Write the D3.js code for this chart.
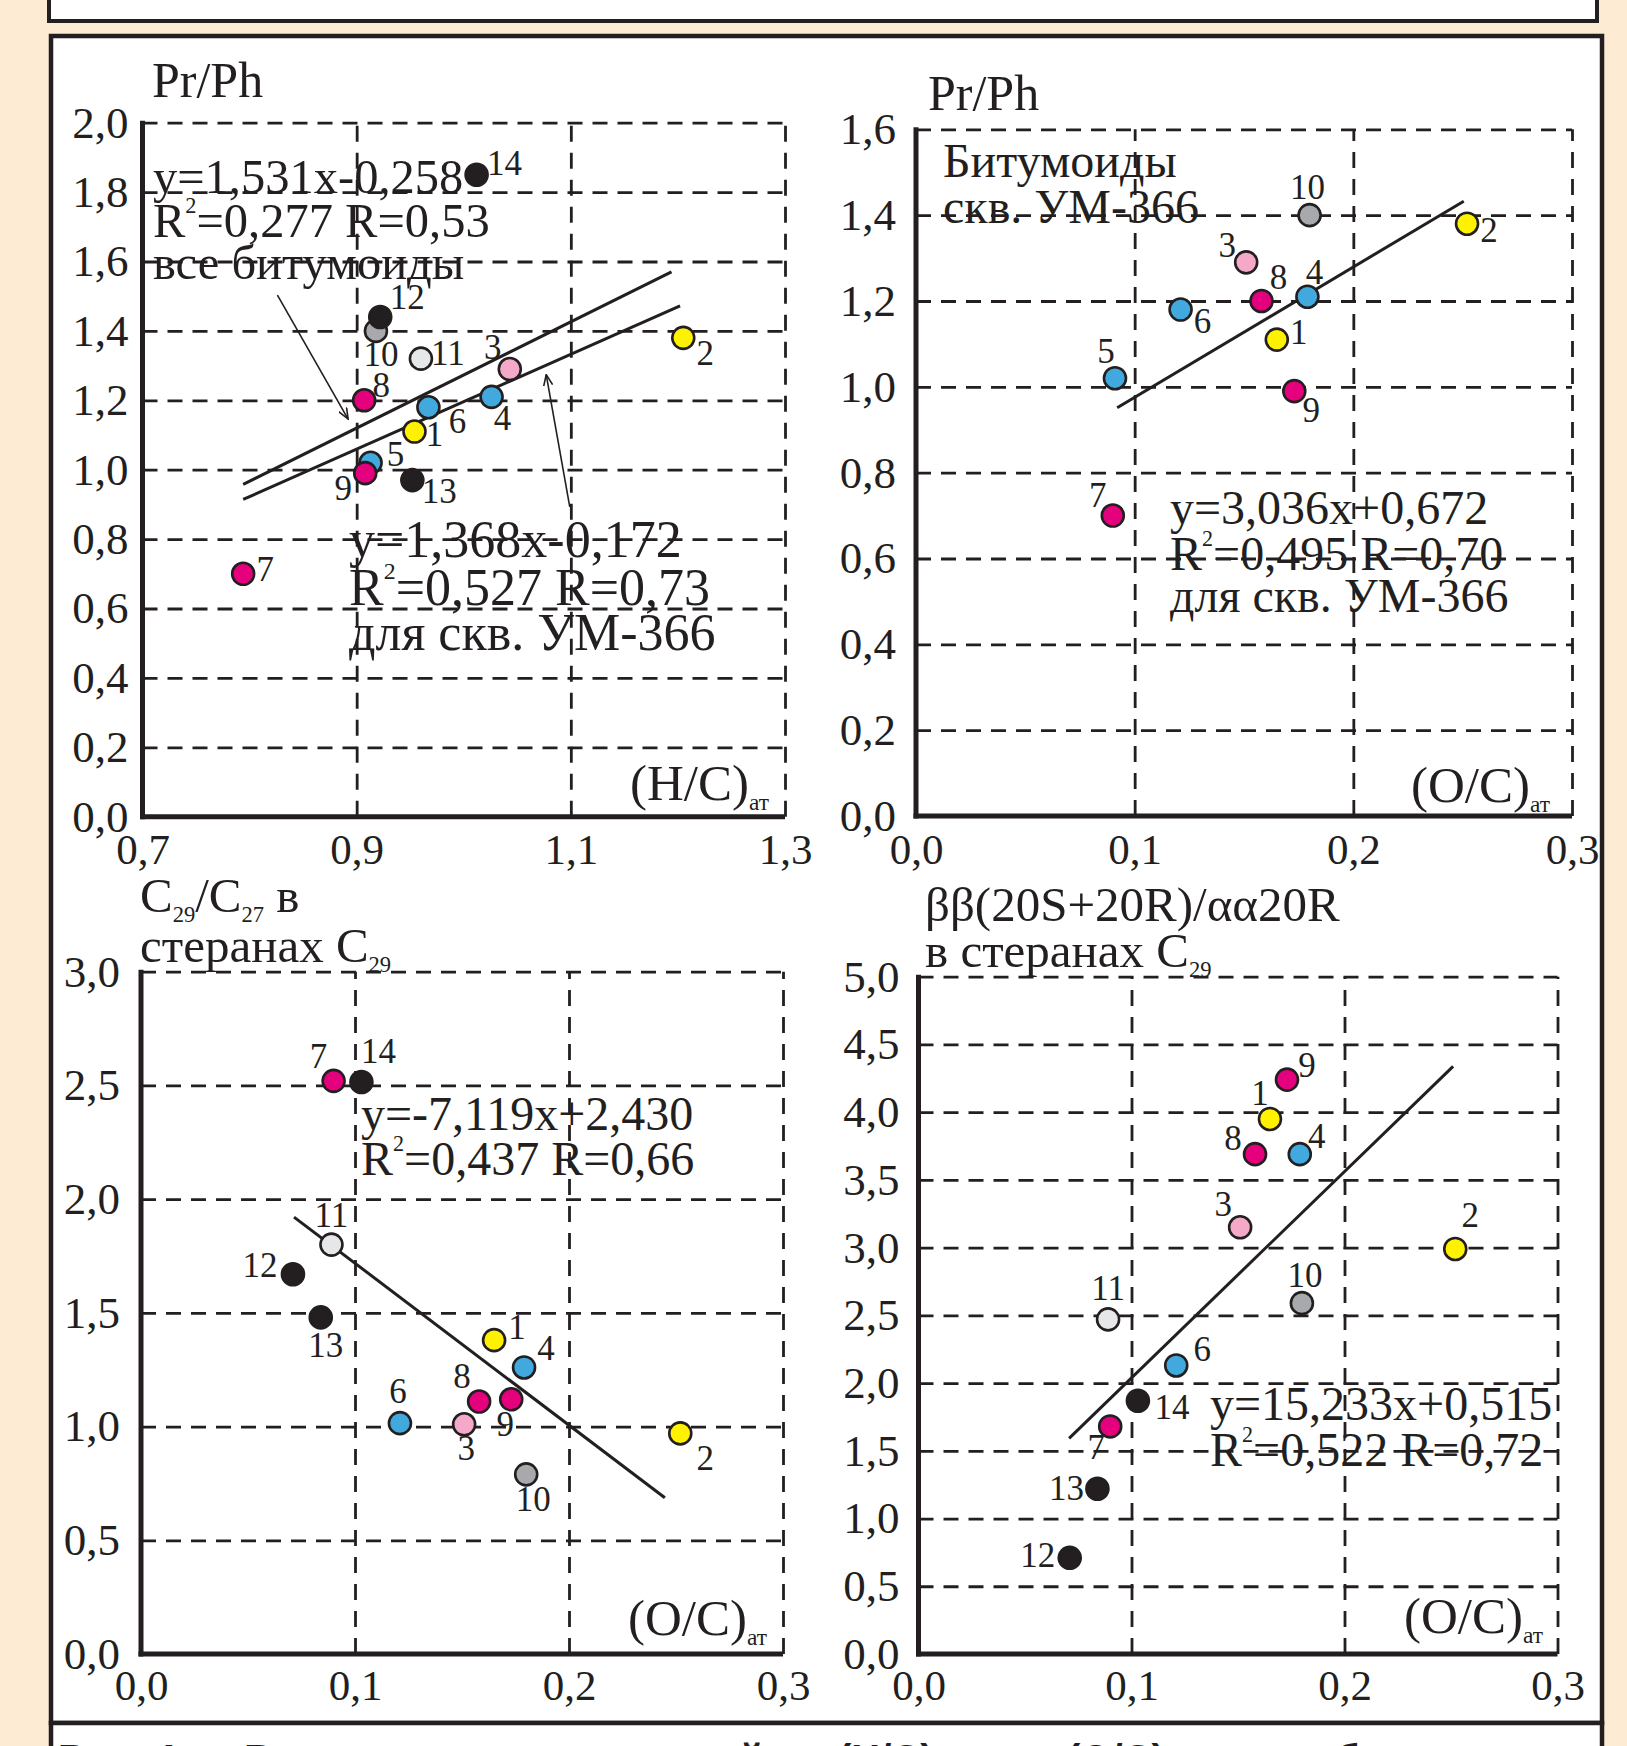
<!DOCTYPE html>
<html>
<head>
<meta charset="utf-8">
<script src="https://cdn.jsdelivr.net/npm/d3@7"></script>
<style>
  body { margin: 0; background: #fdebd3; }
  svg { display: block; }
  text { font-family: "Liberation Serif", "Times New Roman", serif; fill: #231f20; }
</style>
</head>
<body>
<svg id="svg" width="1627" height="1746"></svg>
<script>
// ---- data: samples 1..14 (1-10 = скв. УМ-366) ----
const sampleIds = [1, 2, 3, 4, 5, 6, 7, 8, 9, 10, 11, 12, 13, 14];
const um366Ids = [1, 2, 3, 4, 5, 6, 7, 8, 9, 10];
const hcValues = [0.954, 1.205, 1.043, 1.026, 0.913, 0.967, 0.794, 0.907, 0.908, 0.918, 0.960, 0.922, 0.952, 1.012];
const ocValues = [0.165, 0.252, 0.151, 0.179, 0.091, 0.121, 0.090, 0.158, 0.173, 0.180, 0.089, 0.071, 0.084, 0.103];
const prPhValues = [1.11, 1.38, 1.29, 1.21, 1.02, 1.18, 0.70, 1.20, 0.99, 1.40, 1.32, 1.44, 0.97, 1.85];
const c29c27Values = [1.38, 0.97, 1.01, 1.26, null, 1.015, 2.52, 1.11, 1.12, 0.79, 1.80, 1.67, 1.48, 2.515];
const bbAaValues = [3.95, 2.99, 3.15, 3.69, null, 2.13, 1.68, 3.69, 4.24, 2.59, 2.47, 0.71, 1.22, 1.87];

// regression lines: y = slope*x + intercept, drawn over [from, to]
const fitAllHC = { slope: 1.531, intercept: -0.258, from: 0.794, to: 1.194 };
const fitUmHC = { slope: 1.368, intercept: -0.172, from: 0.794, to: 1.202 };
const fitUmOC = { slope: 3.036, intercept: 0.672, from: 0.092, to: 0.2505 };
const fitSteranes = { slope: -7.119, intercept: 2.430, from: 0.0715, to: 0.2448 };
const fitIsomers = { slope: 15.233, intercept: 0.515, from: 0.0707, to: 0.251 };

// tick values
const hcTicks = [0.7, 0.9, 1.1, 1.3];
const ocTicks = [0.0, 0.1, 0.2, 0.3];
const prPhTicksAll = [0, 0.2, 0.4, 0.6, 0.8, 1.0, 1.2, 1.4, 1.6, 1.8, 2.0];
const prPhTicksUm = [0, 0.2, 0.4, 0.6, 0.8, 1.0, 1.2, 1.4, 1.6];
const c29Ticks = [0, 0.5, 1.0, 1.5, 2.0, 2.5, 3.0];
const bbTicks = [0, 0.5, 1.0, 1.5, 2.0, 2.5, 3.0, 3.5, 4.0, 4.5, 5.0];

// ---- drawing ----
const ink = "#231f20";
const svg = d3.select("#svg");
const fmt = v => d3.format(".1f")(v).replace(".", ",");

const color = d3.scaleOrdinal()
  .domain(sampleIds)
  .range(["#fff200", "#fff200", "#f4a9c8", "#41a9dd", "#41a9dd", "#41a9dd", "#e5007d",
          "#e5007d", "#e5007d", "#a7a9ac", "#e6e7e8", ink, ink, ink]);

// frames
svg.append("rect").attr("x", 49).attr("y", -10).attr("width", 1548).attr("height", 31)
  .attr("fill", "white").attr("stroke", ink).attr("stroke-width", 4);
svg.append("rect").attr("x", 51).attr("y", 36).attr("width", 1551).attr("height", 1687)
  .attr("fill", "white").attr("stroke", ink).attr("stroke-width", 4.5);
svg.append("rect").attr("x", 51).attr("y", 1723).attr("width", 1551).attr("height", 60)
  .attr("fill", "white").attr("stroke", ink).attr("stroke-width", 4.5);

// text with sub/superscripts: parts are strings or [string, "sub"|"sup"]
function richText(g, x, y, size, parts) {
  const t = g.append("text").attr("x", x).attr("y", y).attr("font-size", size);
  let shift = 0;
  parts.forEach(part => {
    const [str, kind] = Array.isArray(part) ? part : [part, "n"];
    const target = kind === "sub" ? size * 0.2 : kind === "sup" ? -size * 0.5 : 0;
    t.append("tspan")
      .attr("dy", target - shift)
      .attr("font-size", kind === "n" ? size : size * 0.46)
      .text(str);
    shift = target;
  });
  return t;
}

function drawPanel(p) {
  const g = svg.append("g");
  const x = d3.scaleLinear().domain(p.xDomain).range([p.left, p.right]);
  const y = d3.scaleLinear().domain(p.yDomain).range([p.bottom, p.top]);
  const w = p.right - p.left, h = p.bottom - p.top;

  // dashed grid (through axes)
  g.append("g").attr("transform", `translate(${p.left},0)`)
    .call(d3.axisLeft(y).tickValues(p.yTicks.slice(1)).tickSize(-w).tickFormat(""))
    .call(a => a.select(".domain").remove())
    .selectAll("line").attr("stroke", ink).attr("stroke-width", 2.8).attr("stroke-dasharray", "15,10");
  g.append("g").attr("transform", `translate(0,${p.bottom})`)
    .call(d3.axisBottom(x).tickValues(p.xTicks.slice(1)).tickSize(-h).tickFormat(""))
    .call(a => a.select(".domain").remove())
    .selectAll("line").attr("stroke", ink).attr("stroke-width", 2.8).attr("stroke-dasharray", "16,11");

  // tick labels
  g.append("g").attr("transform", `translate(${p.left - 2},0)`)
    .call(d3.axisLeft(y).tickValues(p.yTicks).tickSize(0).tickPadding(p.yPad).tickFormat(fmt))
    .call(a => a.select(".domain").remove())
    .attr("font-family", null).attr("font-size", 45);
  g.append("g").attr("transform", `translate(0,${p.bottom})`)
    .call(d3.axisBottom(x).tickValues(p.xTicks).tickSize(0).tickPadding(p.xPad).tickFormat(fmt))
    .call(a => a.select(".domain").remove())
    .attr("font-family", null).attr("font-size", 43);
  g.selectAll(".tick text").attr("fill", ink);

  // solid axes
  g.append("line").attr("x1", p.left).attr("x2", p.left).attr("y1", p.top - 2).attr("y2", p.bottom + 2.5)
    .attr("stroke", ink).attr("stroke-width", 5);
  g.append("line").attr("x1", p.left - 2.5).attr("x2", p.right).attr("y1", p.bottom).attr("y2", p.bottom)
    .attr("stroke", ink).attr("stroke-width", 5);

  // regression lines
  p.fits.forEach(f => {
    g.append("line")
      .attr("x1", x(f.from)).attr("y1", y(f.slope * f.from + f.intercept))
      .attr("x2", x(f.to)).attr("y2", y(f.slope * f.to + f.intercept))
      .attr("stroke", ink).attr("stroke-width", 3);
  });

  // annotation text
  p.texts.forEach(t => richText(g, t.x, t.y, t.size, t.parts));

  // arrows
  (p.arrows || []).forEach(a => {
    g.append("line")
      .attr("x1", x(a.from[0])).attr("y1", y(a.from[1]))
      .attr("x2", x(a.to[0])).attr("y2", y(a.to[1]))
      .attr("stroke", ink).attr("stroke-width", 1.6)
      .attr("marker-end", "url(#arrow)");
  });

  // points
  const pts = p.ids.map(id => ({ id, xv: p.xs[id - 1], yv: p.ys[id - 1] }))
    .filter(d => d.yv != null);
  g.selectAll("circle.pt").data(pts).join("circle")
    .attr("class", "pt")
    .attr("cx", d => x(d.xv)).attr("cy", d => y(d.yv))
    .attr("r", 11)
    .attr("fill", d => color(d.id))
    .attr("stroke", ink).attr("stroke-width", 2.6);
  g.selectAll("text.lbl").data(pts).join("text")
    .attr("class", "lbl")
    .attr("x", d => x(d.xv) + p.labelOffsets[d.id][0])
    .attr("y", d => y(d.yv) + p.labelOffsets[d.id][1])
    .attr("text-anchor", "middle")
    .attr("font-size", 35)
    .text(d => d.id);
}

svg.append("defs").append("marker")
  .attr("id", "arrow").attr("viewBox", "0 0 12 10")
  .attr("refX", 11).attr("refY", 5)
  .attr("markerWidth", 12).attr("markerHeight", 10)
  .attr("markerUnits", "userSpaceOnUse")
  .attr("orient", "auto")
  .append("path").attr("d", "M0,0.5 L11,5 L0,9.5")
  .attr("fill", "none").attr("stroke", ink).attr("stroke-width", 1.6);

const AT = ["ат", "sub"];

drawPanel({
  left: 142.5, right: 785, top: 122.7, bottom: 816.7,
  xDomain: [0.7, 1.3], yDomain: [0, 2.0], xTicks: hcTicks, yTicks: prPhTicksAll,
  yPad: 12, xPad: 17,
  ids: sampleIds, xs: hcValues, ys: prPhValues,
  fits: [fitAllHC, fitUmHC],
  arrows: [{ from: [0.826, 1.503], to: [0.892, 1.146] }, { from: [1.099, 0.893], to: [1.077, 1.274] }],
  texts: [
    { x: 152, y: 97, size: 50, parts: ["Pr/Ph"] },
    { x: 153, y: 193, size: 48.5, parts: ["y=1,531x-0,258"] },
    { x: 153, y: 237, size: 48.5, parts: ["R", ["2", "sup"], "=0,277 R=0,53"] },
    { x: 153, y: 279, size: 48.5, parts: ["все битумоиды"] },
    { x: 349, y: 557, size: 52, parts: ["y=1,368x-0,172"] },
    { x: 349, y: 605, size: 52, parts: ["R", ["2", "sup"], "=0,527 R=0,73"] },
    { x: 349, y: 650, size: 52, parts: ["для скв. УМ-366"] },
    { x: 630, y: 800, size: 51, parts: ["(H/C)", AT] }
  ],
  labelOffsets: {
    1: [20, 14], 2: [22, 27], 3: [-17, -10], 4: [11, 33], 5: [25, 3], 6: [29, 26], 7: [22, 7],
    8: [17, -3], 9: [-22, 27], 10: [5, 35], 11: [27, 6], 12: [27, -8], 13: [27, 23], 14: [28, 0]
  }
});

drawPanel({
  left: 916, right: 1572, top: 129.3, bottom: 816,
  xDomain: [0, 0.3], yDomain: [0, 1.6], xTicks: ocTicks, yTicks: prPhTicksUm,
  yPad: 18, xPad: 17,
  ids: um366Ids, xs: ocValues, ys: prPhValues,
  fits: [fitUmOC],
  texts: [
    { x: 928, y: 110, size: 50, parts: ["Pr/Ph"] },
    { x: 943, y: 177, size: 48, parts: ["Битумоиды"] },
    { x: 943, y: 223, size: 48, parts: ["скв. УМ-366"] },
    { x: 1170, y: 524, size: 48, parts: ["y=3,036x+0,672"] },
    { x: 1170, y: 570, size: 48, parts: ["R", ["2", "sup"], "=0,495 R=0,70"] },
    { x: 1170, y: 612, size: 48, parts: ["для скв. УМ-366"] },
    { x: 1411, y: 802, size: 51, parts: ["(O/C)", AT] }
  ],
  labelOffsets: {
    1: [22, 4], 2: [22, 18], 3: [-19, -5], 4: [7, -13], 5: [-9, -15], 6: [22, 23], 7: [-15, -9],
    8: [17, -12], 9: [17, 31], 10: [-2, -16]
  }
});

drawPanel({
  left: 141, right: 783, top: 971.7, bottom: 1654,
  xDomain: [0, 0.3], yDomain: [0, 3.0], xTicks: ocTicks, yTicks: c29Ticks,
  yPad: 19, xPad: 15,
  ids: sampleIds, xs: ocValues, ys: c29c27Values,
  fits: [fitSteranes],
  texts: [
    { x: 140, y: 912, size: 49, parts: ["C", ["29", "sub"], "/C", ["27", "sub"], " в"] },
    { x: 140, y: 962, size: 49, parts: ["стеранах C", ["29", "sub"]] },
    { x: 361, y: 1130, size: 48, parts: ["y=-7,119x+2,430"] },
    { x: 361, y: 1175, size: 48, parts: ["R", ["2", "sup"], "=0,437 R=0,66"] },
    { x: 628, y: 1635, size: 51, parts: ["(O/C)", AT] }
  ],
  labelOffsets: {
    1: [23, -1], 2: [25, 37], 3: [2, 36], 4: [22, -7], 6: [-2, -20], 7: [-15, -13], 8: [-17, -14],
    9: [-6, 37], 10: [7, 37], 11: [0, -18], 12: [-33, 3], 13: [5, 40], 14: [17, -19]
  }
});

drawPanel({
  left: 918.5, right: 1557.5, top: 976.7, bottom: 1654,
  xDomain: [0, 0.3], yDomain: [0, 5.0], xTicks: ocTicks, yTicks: bbTicks,
  yPad: 17, xPad: 15,
  ids: sampleIds, xs: ocValues, ys: bbAaValues,
  fits: [fitIsomers],
  texts: [
    { x: 925, y: 921, size: 49, parts: ["ββ(20S+20R)/αα20R"] },
    { x: 925, y: 967, size: 49, parts: ["в стеранах C", ["29", "sub"]] },
    { x: 1210, y: 1420, size: 48, parts: ["y=15,233x+0,515"] },
    { x: 1210, y: 1466, size: 48, parts: ["R", ["2", "sup"], "=0,522 R=0,72"] },
    { x: 1404, y: 1633, size: 51, parts: ["(O/C)", AT] }
  ],
  labelOffsets: {
    1: [-10, -14], 2: [15, -22], 3: [-17, -11], 4: [17, -6], 6: [26, -4], 7: [-14, 33], 8: [-22, -4],
    9: [20, -3], 10: [3, -16], 11: [0, -19], 12: [-32, 9], 13: [-31, 11], 14: [34, 18]
  }
});

// caption (mostly cut off by the page edge)
const cap = svg.append("g").attr("font-weight", "bold").attr("font-size", 40);
[[58, "Рис. 4."], [244, "Взаимосвязь показателей"], [838, "(H/C)ат  и"],
 [1067, "(O/C)ат  с"], [1335, "биомаркерами"]].forEach(([cx, s]) => {
  cap.append("text").attr("x", cx).attr("y", 1773)
    .style("font-family", "'Liberation Sans', Arial, sans-serif").text(s);
});
</script>
</body>
</html>
